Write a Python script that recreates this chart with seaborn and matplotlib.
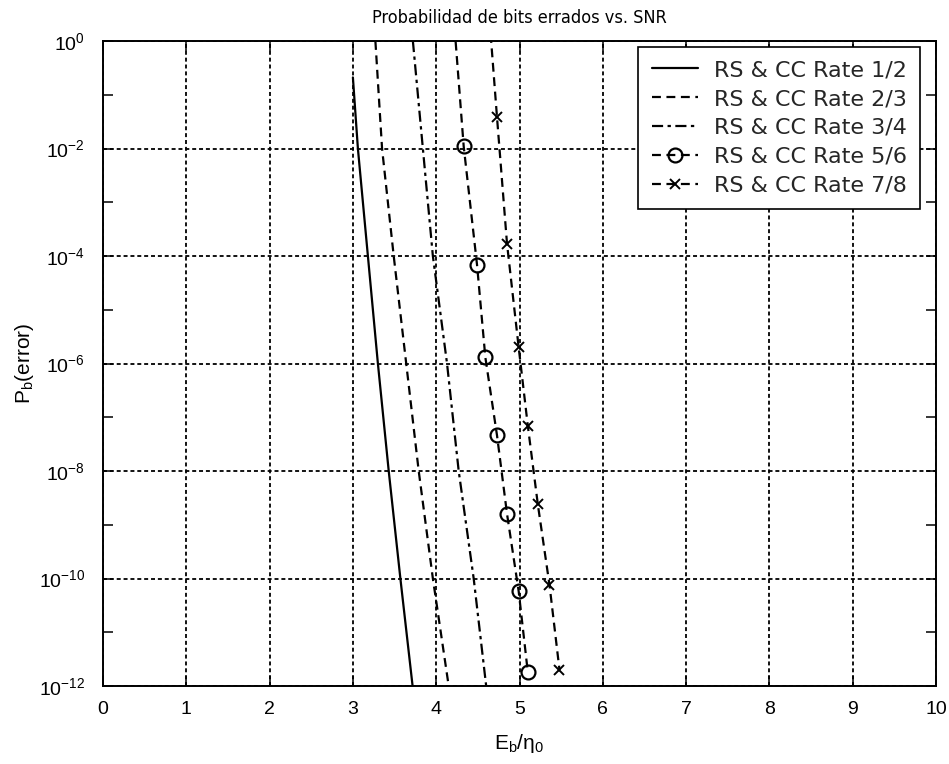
import matplotlib
matplotlib.use("Agg")
import matplotlib.pyplot as plt
import seaborn as sns
import pandas as pd
from matplotlib.ticker import FixedLocator, FixedFormatter

sns.set_theme(style="ticks")
plt.rcParams['font.family'] = ['Liberation Sans', 'DejaVu Sans']
plt.rcParams['mathtext.fontset'] = 'custom'
plt.rcParams['mathtext.rm'] = 'Liberation Sans'
plt.rcParams['mathtext.it'] = 'Liberation Sans'
plt.rcParams['mathtext.default'] = 'regular'

# Eb/N0 (dB) and bit error probability for each concatenated RS + CC code rate
labels = ["RS & CC Rate 1/2", "RS & CC Rate 2/3", "RS & CC Rate 3/4",
          "RS & CC Rate 5/6", "RS & CC Rate 7/8"]

ebn0_r12 = [3.00, 3.06, 3.18, 3.30, 3.43, 3.57, 3.72]
pb_r12 = [2.1e-1, 1e-2, 1e-4, 1e-6, 1e-8, 1e-10, 9e-13]

ebn0_r23 = [3.27, 3.35, 3.49, 3.64, 3.79, 3.96, 4.15]
pb_r23 = [1.0, 1e-2, 1e-4, 1e-6, 1e-8, 1e-10, 1e-12]

ebn0_r34 = [3.72, 3.84, 3.96, 4.13, 4.27, 4.45, 4.60]
pb_r34 = [1.0, 1e-2, 1e-4, 1e-6, 1e-8, 1e-10, 1e-12]

ebn0_r56 = [4.22, 4.33, 4.49, 4.59, 4.73, 4.85, 4.99, 5.10]
pb_r56 = [1.8, 1.1e-2, 6.9e-5, 1.3e-6, 4.6e-8, 1.6e-9, 5.8e-11, 1.8e-12]

ebn0_r78 = [4.64, 4.73, 4.85, 4.99, 5.10, 5.22, 5.36, 5.48]
pb_r78 = [2.5, 3.8e-2, 1.7e-4, 2.0e-6, 6.9e-8, 2.4e-9, 7.6e-11, 2.0e-12]

x_ticks = [0, 1, 2, 3, 4, 5, 6, 7, 8, 9, 10]
y_major = [1e0, 1e-2, 1e-4, 1e-6, 1e-8, 1e-10, 1e-12]
y_major_labels = ["$10^{0}$", "$10^{-2}$", "$10^{-4}$", "$10^{-6}$",
                  "$10^{-8}$", "$10^{-10}$", "$10^{-12}$"]
y_minor = [1e-1, 1e-3, 1e-5, 1e-7, 1e-9, 1e-11]

series = [
    (ebn0_r12, pb_r12, dict(linestyle="-", marker=None)),
    (ebn0_r23, pb_r23, dict(linestyle=(0, (4, 2.5)), marker=None)),
    (ebn0_r34, pb_r34, dict(linestyle=(0, (5, 2, 1.5, 2)), marker=None)),
    (ebn0_r56, pb_r56, dict(linestyle=(0, (4, 2.5)), marker="o",
                            markersize=10, markerfacecolor="none",
                            markeredgewidth=1.6)),
    (ebn0_r78, pb_r78, dict(linestyle=(0, (4, 2.5)), marker="x",
                            markersize=7, markeredgewidth=1.4)),
]

fig = plt.figure(figsize=(9.49, 7.64), dpi=100)
ax = fig.add_axes([103 / 949, 78 / 764, 833 / 949, 645 / 764])

for (xs, ys, style), lab in zip(series, labels):
    df = pd.DataFrame({"EbN0": xs, "Pb": ys})
    sns.lineplot(data=df, x="EbN0", y="Pb", ax=ax, color="black",
                 linewidth=1.6, estimator=None, sort=False, label=lab,
                 markeredgecolor="black", **style)

ax.set_yscale("log")
ax.set_xlim(0, 10)
ax.set_ylim(1e-12, 1e0)

ax.xaxis.set_major_locator(FixedLocator(x_ticks))
ax.set_xticklabels([str(t) for t in x_ticks])
ax.yaxis.set_major_locator(FixedLocator(y_major))
ax.yaxis.set_major_formatter(FixedFormatter(y_major_labels))
ax.yaxis.set_minor_locator(FixedLocator(y_minor))
ax.yaxis.set_minor_formatter(FixedFormatter([""] * len(y_minor)))

ax.tick_params(which="both", direction="in", top=True, right=True,
               length=7, width=1.1, colors="black", labelsize=14)
ax.tick_params(axis="x", pad=11)
ax.tick_params(axis="y", pad=13)

ax.grid(True, which="major", color="black", linestyle=(0, (2.2, 1.6)),
        linewidth=1.3)
for s in ax.spines.values():
    s.set_color("black")
    s.set_linewidth(1.4)

ax.set_title("Probabilidad de bits errados vs. SNR", fontsize=13,
             family=["DejaVu Sans"], fontstretch="condensed",
             pad=13, color="black")
ax.set_xlabel("E$_b$/η$_0$", fontsize=15, color="black", labelpad=10)
ax.set_ylabel("P$_b$(error)", fontsize=15, color="black", labelpad=2)

leg = ax.legend(loc="upper right", bbox_to_anchor=(0.981, 0.991),
                borderaxespad=0, frameon=True, fancybox=False,
                framealpha=1, edgecolor="black", handlelength=2.1,
                handletextpad=0.7, labelspacing=0.4, borderpad=0.6,
                prop={"family": ["DejaVu Sans"], "size": 16})
leg.get_frame().set_linewidth(1.2)

fig.savefig("out.png", dpi=100, facecolor="white")
